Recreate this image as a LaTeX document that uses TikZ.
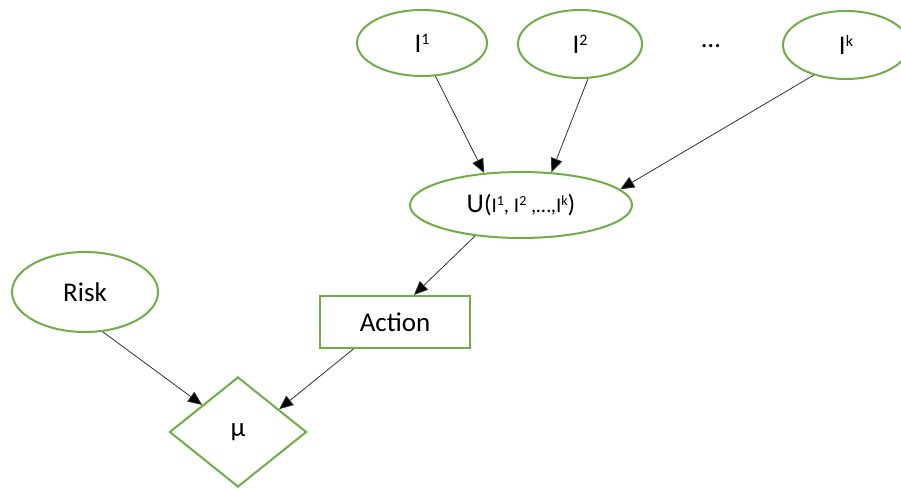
\documentclass[tikz,border=0pt]{standalone}
\usepackage{fontspec}
\setmainfont{Carlito}
\usetikzlibrary{shapes.geometric,arrows.meta}
\definecolor{officegreen}{RGB}{112,173,71}
\definecolor{linkgray}{RGB}{50,50,50}
% raised indices set in the text font
\newcommand{\sups}[1]{\raisebox{8pt}{\fontsize{16}{16}\selectfont #1}}
\newcommand{\supu}[1]{\raisebox{7pt}{\fontsize{14}{14}\selectfont #1}}
\tikzset{
  every node/.style={font=\fontsize{27}{32}\selectfont, text=black},
  oval/.style={ellipse, draw=officegreen, line width=2pt, inner sep=0pt},
  box/.style={rectangle, draw=officegreen, line width=2pt, inner sep=0pt,
              minimum width=150pt, minimum height=52pt},
  decision/.style={diamond, draw=officegreen, line width=2pt, inner sep=0pt,
                   minimum width=137pt, minimum height=110pt},
  link/.style={draw=linkgray, line width=0.8pt,
               -{Triangle[length=14pt,width=12pt,fill=black]}}
}
\begin{document}
\begin{tikzpicture}[x=1pt,y=1pt]
  \useasboundingbox (0,0) rectangle (901,489);
  % indicator nodes
  \node[oval, minimum width=130pt, minimum height=66pt] (I1) at (422,446) {I\sups{1}};
  \node[oval, minimum width=124pt, minimum height=68pt] (I2) at (580,445) {I\sups{2}};
  \node (dots) at (711,443) {…};
  \node[oval, minimum width=126pt, minimum height=68pt] (Ik) at (846,444) {I\sups{k}};
  % utility
  \node[oval, minimum width=222pt, minimum height=66pt] (U) at (521,284)
    {U{\fontsize{25}{30}\selectfont(}{\fontsize{21}{25}\selectfont I\supu{1}, I\supu{2} ,…,I\supu{k}}{\fontsize{25}{30}\selectfont)}};
  % risk, action, outcome
  \node[oval, minimum width=146pt, minimum height=80pt] (Risk) at (85,197) {Risk};
  \node[box] (Action) at (395,167) {Action};
  \node[decision] (mu) at (238,57) {μ};
  % connectors
  \draw[link] (I1.-68) -- (U.139);
  \draw[link] (I2.-77) -- (U.47);
  \draw[link] (Ik.-137) -- (U.9);
  \draw[link] (U.-146) -- (Action.55);
  \draw[link] (Risk.-66) -- (mu.143);
  \draw[link] (Action.-147) -- (mu.29);
\end{tikzpicture}
\end{document}
